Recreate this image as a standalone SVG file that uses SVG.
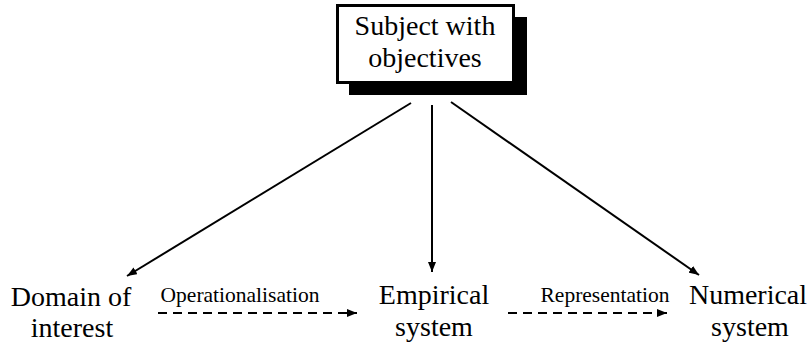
<svg xmlns="http://www.w3.org/2000/svg" width="811" height="343" viewBox="0 0 811 343">
<style>
  .solid { stroke: #000; stroke-width: 2; fill: none; marker-end: url(#arrow); }
  .dash { stroke: #000; stroke-width: 2; fill: none; stroke-dasharray: 9 6; marker-end: url(#arrow); }
</style>
<defs>
  <marker id="arrow" viewBox="0 0 10 8" refX="10" refY="4" markerWidth="10" markerHeight="8" markerUnits="userSpaceOnUse" orient="auto">
    <path d="M0,0 L10,4 L0,8 z" fill="#000"/>
  </marker>
</defs>
<rect width="811" height="343" fill="#fff"/>
<g font-family="Liberation Serif, serif" font-size="28" text-anchor="middle" fill="#000">
<g id="subject">
  <rect x="349" y="17" width="178" height="78" fill="#000"/>
  <rect x="337.5" y="5.5" width="176" height="77" fill="#fff" stroke="#000" stroke-width="3"/>
  <text x="425" y="35">Subject with</text>
  <text x="425" y="67">objectives</text>
</g>
<g id="domain">
  <text x="71" y="306">Domain of</text>
  <text x="72" y="337">interest</text>
</g>
<g id="empirical">
  <text x="434" y="304">Empirical</text>
  <text x="434" y="336">system</text>
</g>
<g id="numerical">
  <text x="748" y="304">Numerical</text>
  <text x="750" y="336">system</text>
</g>
<g id="connectors">
  <line class="solid" x1="411" y1="103" x2="127" y2="276"/>
  <line class="solid" x1="432" y1="105" x2="432" y2="272"/>
  <line class="solid" x1="451" y1="102" x2="699" y2="275"/>
  <line class="dash" x1="158" y1="313" x2="357" y2="313"/>
  <line class="dash" x1="508" y1="313" x2="667" y2="313"/>
  <text x="240" y="302" font-size="21.5">Operationalisation</text>
  <text x="605" y="302" font-size="21.5">Representation</text>
</g>
</g>
</svg>
